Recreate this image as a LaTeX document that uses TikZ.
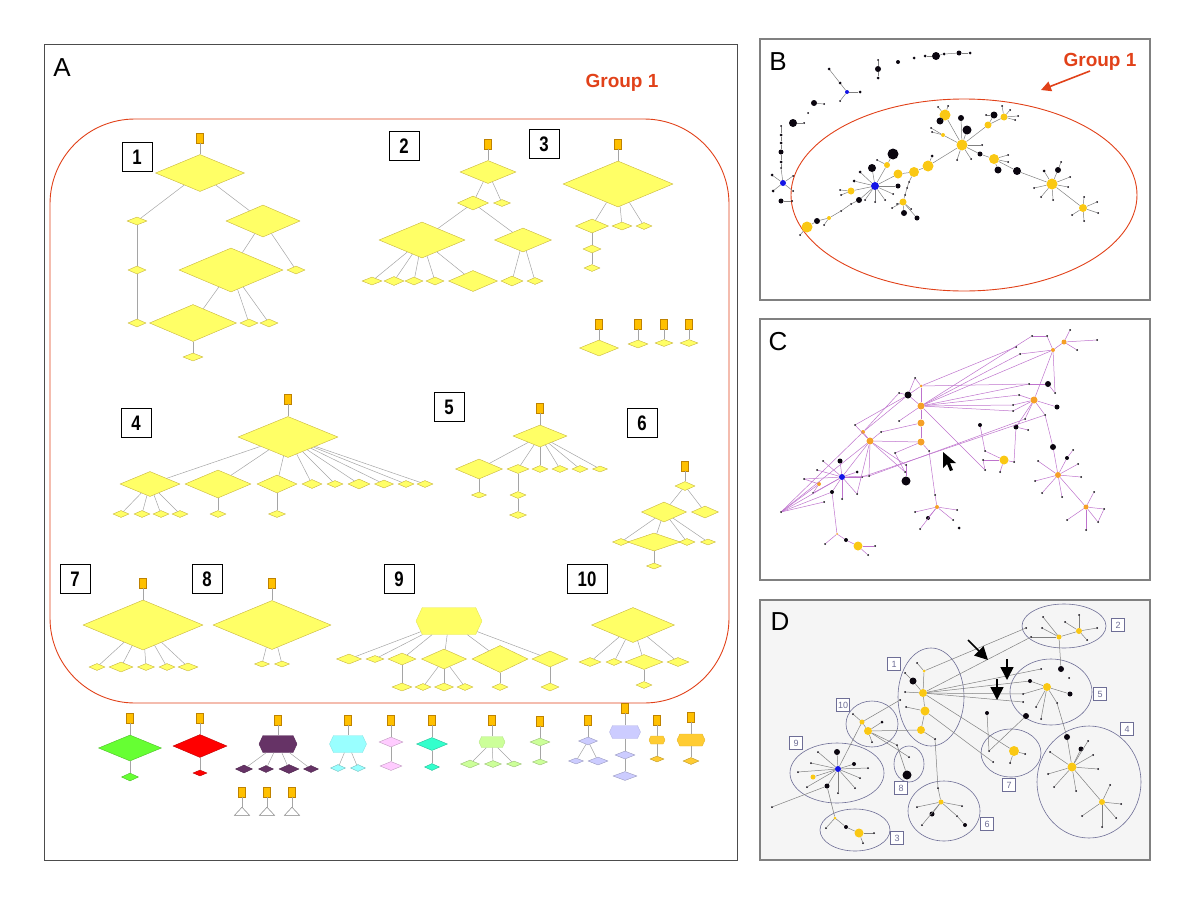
\documentclass[tikz,border=0pt]{standalone}
\usepackage{fontspec}
\setmainfont{Liberation Sans}
\newfontfamily\numfont[FakeStretch=0.8]{Liberation Sans}
\usetikzlibrary{positioning, arrows.meta, shapes.geometric, shapes.symbols}
\definecolor{diafill}{RGB}{255,255,102}
\definecolor{diaedge}{RGB}{200,180,60}
\definecolor{rootfill}{RGB}{255,192,0}
\definecolor{rootedge}{RGB}{190,130,0}
\definecolor{linkgray}{RGB}{165,165,165}
\definecolor{groupred}{RGB}{225,65,25}
\definecolor{framegray}{RGB}{128,128,128}
\definecolor{ngold}{RGB}{250,200,20}
\definecolor{norange}{RGB}{245,160,40}
\definecolor{nblue}{RGB}{20,20,230}
\definecolor{nblack}{RGB}{10,5,15}
\definecolor{webpurple}{RGB}{190,115,205}
\definecolor{ringblue}{RGB}{110,110,150}
\definecolor{dback}{RGB}{245,245,245}
\definecolor{cgreen}{RGB}{102,255,51}
\definecolor{cred}{RGB}{255,0,0}
\definecolor{cplum}{RGB}{102,51,102}
\definecolor{ccyan}{RGB}{153,255,255}
\definecolor{cpink}{RGB}{255,204,255}
\definecolor{cteal}{RGB}{51,255,204}
\definecolor{clime}{RGB}{204,255,153}
\definecolor{clav}{RGB}{204,204,255}
\definecolor{camber}{RGB}{255,204,51}

\begin{document}
\begin{tikzpicture}[x=1pt, y=-1pt,
    dia/.style={diamond, draw=diaedge, fill=diafill, inner sep=0pt, line width=0.4pt},
    hexa/.style={signal, signal to=east and west, signal pointer angle=130, inner sep=0pt, line width=0.4pt},
    root/.style={rectangle, draw=rootedge, fill=rootfill, minimum width=7pt, minimum height=10pt, inner sep=0pt, line width=0.4pt},
    tri/.style={isosceles triangle, isosceles triangle stretches, shape border rotate=90, draw=gray, fill=white, minimum width=15pt, minimum height=8pt, inner sep=0pt, line width=0.5pt},
    link/.style={draw=linkgray, line width=0.5pt},
    numbox/.style={draw, line width=1pt, minimum width=30pt, minimum height=29pt, inner sep=0pt, font=\numfont\bfseries\fontsize{21}{21}\selectfont},
    panel/.style={font=\fontsize{26}{26}\selectfont},
    grouplabel/.style={text=groupred, font=\bfseries\fontsize{19}{19}\selectfont},
    dot/.style={circle, inner sep=0pt, draw=none},
    weblink/.style={draw=webpurple, line width=0.5pt},
    graylink/.style={draw=gray, line width=0.5pt},
    ring/.style={draw=ringblue, line width=0.6pt},
    ringbox/.style={draw=ringblue, fill=white, minimum size=13pt, inner sep=1.5pt, text=ringblue, font=\fontsize{9}{9}\selectfont},
    bigarrow/.style={line width=1.6pt, -{Triangle[length=13pt, width=13pt]}},
    framebox/.style={draw=framegray, line width=1.6pt}
]
\useasboundingbox (0,0) rectangle (1200,900);

% ---------------- Panel A ----------------
\draw[draw=black!70, line width=1pt] (44,44) rectangle (737,860);
\node[panel] (labA) at (62,68) {A};
\node[grouplabel] (grpA) at (622,83) {Group 1};
\draw[groupred, line width=0.9pt, rounded corners=85pt] (50,119) rectangle (729,703);

% Numbered boxes
\foreach \n/\x/\y in {1/137/157, 2/404/146, 3/544/144, 4/136/423, 5/449/407, 6/642/423, 7/75/579, 8/207/579, 9/399/579}
    \node[numbox] (num\n) at (\x,\y) {\n};
\node[numbox, minimum width=40pt] (num10) at (587,579) {10};

% Roots
\foreach \n/\x/\y in {t1r/200/138, t2r/488/144, t3r/618/144, i1r/599/324, i2r/638/324, i3r/664/324, i4r/689/324,
    t4r/288/399, t5r/540/408, t6r/685/466, t7r/143/583, t8r/272/583,
    g1r/130/718, g2r/200/718, g3r/278/720, g4r/348/720, g5r/391/720, g6r/432/720, g7r/492/720,
    g8r/540/721, g9r/588/720, g10r/625/708, g11r/657/720, g12r/691/717, g13r/242/792, g14r/267/792, g15r/292/792}
    \node[root] (\n) at (\x,\y) {};

% Yellow diamonds
\foreach \n/\x/\y/\w/\h in {t1a/200/173/89/37, t1b/137/221/20/8, t1c/263/221/74/32, t1d/137/270/18/8, t1e/231/270/104/44,
    t1f/296/270/18/8, t1g/137/323/18/8, t1h/193/323/87/37, t1i/249/323/18/8, t1j/269/323/18/8, t1k/193/357/20/8,
    t2a/488/172/56/23, t2b/473/203/31/14, t2c/502/203/17/7, t2d/422/240/86/36, t2e/523/240/57/24, t2f/372/281/20/8,
    t2g/394/281/20/9, t2h/414/281/18/8, t2i/435/281/18/8, t2j/473/281/49/21, t2k/512/281/22/10, t2l/535/281/16/7,
    t3a/618/184/110/46, t3b/592/226/33/14, t3c/622/226/20/8, t3d/644/226/16/7, t3e/592/249/18/8, t3f/592/268/16/7,
    i1a/599/348/39/16, i2a/638/344/20/8, i3a/664/343/18/7, i4a/689/343/18/7,
    t4a/288/437/100/41, t4b/150/484/60/25, t4c/218/484/66/28, t4d/277/484/40/18, t4e/312/484/20/9, t4f/335/484/16/7,
    t4g/359/484/22/10, t4h/384/484/19/8, t4i/406/484/16/7, t4j/425/484/16/7, t4k/121/514/16/7, t4l/142/514/16/7,
    t4m/161/514/16/7, t4n/180/514/16/7, t4o/218/514/16/7, t4p/277/514/17/7,
    t5a/540/436/54/22, t5b/479/469/47/20, t5c/518/469/22/9, t5d/540/469/16/7, t5e/560/469/16/7, t5f/580/469/16/7,
    t5g/600/469/15/6, t5h/479/495/15/6, t5i/518/495/16/7, t5j/518/515/17/7,
    t6a/685/486/20/9, t6b/664/512/45/20, t6c/705/512/27/12, t6d/621/542/17/7, t6e/654/542/53/18, t6f/687/542/16/7,
    t6g/708/542/15/6, t6h/654/566/15/6,
    t7a/143/625/120/50, t7b/97/667/16/7, t7c/121/667/24/10, t7d/146/667/17/7, t7e/167/667/16/7, t7f/188/667/20/8,
    t8a/272/625/118/49, t8b/262/664/15/6, t8c/282/664/15/6,
    t9b/349/659/25/10, t9c/375/659/18/7, t9d/402/659/28/12, t9e/444/659/45/20, t9f/500/659/56/27, t9g/550/659/36/16,
    t9h/402/687/20/8, t9i/423/687/16/7, t9j/444/687/19/8, t9k/465/687/16/7, t9l/500/687/16/7, t9m/550/687/18/8,
    t10a/633/625/83/35, t10b/590/662/22/9, t10c/614/662/16/7, t10d/644/662/38/15, t10e/678/662/22/9, t10f/644/685/16/7}
    \node[dia, minimum width=\w pt, minimum height=\h pt] (\n) at (\x,\y) {};

% Coloured diamonds and hexagons
\foreach \n/\x/\y/\w/\h/\c in {g1a/130/748/63/26/cgreen, g1b/130/777/17/8/cgreen, g2a/200/746/54/23/cred, g2b/200/773/14/6/cred,
    g3b/244/769/17/8/cplum, g3c/266/769/15/7/cplum, g3d/289/769/20/9/cplum, g3e/311/769/15/7/cplum,
    g4b/338/768/15/7/ccyan, g4c/358/768/15/7/ccyan, g5a/391/742/24/10/cpink, g5b/391/766/22/9/cpink,
    g6a/432/744/31/13/cteal, g6b/432/767/15/7/cteal, g7b/470/764/19/8/clime, g7c/493/764/17/7/clime, g7d/514/764/15/6/clime,
    g8a/540/742/20/8/clime, g8b/540/762/15/6/clime, g9a/588/741/19/8/clav, g9b/576/761/15/6/clav, g9c/598/761/20/8/clav,
    g10b/625/755/20/8/clav, g10c/625/776/24/9/clav, g11b/657/759/14/6/camber, g12b/691/761/16/7/camber}
    \node[dia, fill=\c, draw=\c!75!black, minimum width=\w pt, minimum height=\h pt] (\n) at (\x,\y) {};
\foreach \n/\x/\y/\w/\h/\c in {t9a/449/621/66/27/diafill, g3a/278/744/38/17/cplum, g4a/348/744/37/17/ccyan, g7a/492/742/26/11/clime,
    g10a/625/732/31/13/clav, g11a/657/740/16/8/camber, g12a/691/740/28/12/camber}
    \node[hexa, fill=\c, draw=\c!90!black, minimum width=\w pt, minimum height=\h pt] (\n) at (\x,\y) {};
\foreach \n/\x in {g13a/242, g14a/267, g15a/292}
    \node[tri] (\n) at (\x,812) {};

% Tree edges
\foreach \a/\b in {t1r/t1a, t1a/t1b, t1a/t1c, t1b/t1d, t1d/t1g, t1c/t1e, t1c/t1f, t1e/t1h, t1e/t1i, t1e/t1j, t1h/t1k,
    t2r/t2a, t2a/t2b, t2a/t2c, t2b/t2d, t2b/t2e, t2d/t2f, t2d/t2g, t2d/t2h, t2d/t2i, t2d/t2j, t2e/t2k, t2e/t2l,
    t3r/t3a, t3a/t3b, t3a/t3c, t3a/t3d, t3b/t3e, t3e/t3f, i1r/i1a, i2r/i2a, i3r/i3a, i4r/i4a,
    t4r/t4a, t4a/t4b, t4a/t4c, t4a/t4d, t4a/t4e, t4a/t4f, t4a/t4g, t4a/t4h, t4a/t4i, t4a/t4j,
    t4b/t4k, t4b/t4l, t4b/t4m, t4b/t4n, t4c/t4o, t4d/t4p,
    t5r/t5a, t5a/t5b, t5a/t5c, t5a/t5d, t5a/t5e, t5a/t5f, t5a/t5g, t5b/t5h, t5c/t5i, t5i/t5j,
    t6r/t6a, t6a/t6b, t6a/t6c, t6b/t6d, t6b/t6e, t6b/t6f, t6b/t6g, t6e/t6h,
    t7r/t7a, t7a/t7b, t7a/t7c, t7a/t7d, t7a/t7e, t7a/t7f, t8r/t8a, t8a/t8b, t8a/t8c,
    t9a/t9b, t9a/t9c, t9a/t9d, t9a/t9e, t9a/t9f, t9a/t9g, t9d/t9h, t9e/t9i, t9e/t9j, t9e/t9k, t9f/t9l, t9g/t9m,
    t10a/t10b, t10a/t10c, t10a/t10d, t10a/t10e, t10d/t10f,
    g1r/g1a, g1a/g1b, g2r/g2a, g2a/g2b, g3r/g3a, g3a/g3b, g3a/g3c, g3a/g3d, g3a/g3e, g4r/g4a, g4a/g4b, g4a/g4c,
    g5r/g5a, g5a/g5b, g6r/g6a, g6a/g6b, g7r/g7a, g7a/g7b, g7a/g7c, g7a/g7d, g8r/g8a, g8a/g8b, g9r/g9a, g9a/g9b, g9a/g9c,
    g10r/g10a, g10a/g10b, g10b/g10c, g11r/g11a, g11a/g11b, g12r/g12a, g12a/g12b, g13r/g13a, g14r/g14a, g15r/g15a}
    \draw[link] (\a) -- (\b);

% ---------------- Panel B ----------------
\draw[framebox] (760,39) rectangle (1150,300);
\node[panel] (labB) at (778,62) {B};
\node[grouplabel] (grpB) at (1100,62) {Group 1};
\coordinate (grpBtail) at (1090,71);
\coordinate (grpBtip) at (1041,90);
\draw[groupred, line width=1.6pt, -{Triangle[length=10pt, width=10pt]}] (grpBtail) -- (grpBtip);
\draw[groupred, line width=0.9pt] (964,195) ellipse [x radius=173, y radius=96];

\foreach \n/\x/\y/\s/\c in {1/925/56/3/nblack, 2/936/56/8/nblack, 3/944/54/3/nblack, 4/959/53/5/nblack, 5/970/53/3/nblack,
    6/914/58/3/nblack, 7/898/62/4/nblack, 8/878/69/6/nblack, 9/878/60/2/nblack, 10/878/78/3/nblack,
    11/847/92/4/nblue, 12/829/69/3/nblack, 13/840/83/3/nblack, 14/860/92/3/nblack, 15/840/101/2/nblack,
    16/814/103/6/nblack, 17/824/104/2/nblack, 18/808/113/2/nblack, 19/793/123/8/nblack, 20/804/123/2/nblack,
    21/781/126/2/nblack, 22/781/135/3/nblack, 23/781/143/3/nblack, 24/781/152/5/nblack, 25/781/162/3/nblack, 26/781/168/2/nblack,
    27/783/183/6/nblue, 28/772/175/3/nblack, 29/793/176/2/nblack, 30/773/191/3/nblack, 31/793/191/2/nblack,
    33/781/201/5/nblack, 34/792/201/2/nblack,
    40/807/227/11/ngold, 41/800/235/2/nblack, 42/817/221/6/nblack, 43/829/218/4/ngold, 44/824/225/2/nblack,
    45/841/211/2/nblack, 46/851/204/2/nblack, 47/859/200/6/nblack, 50/875/186/8/nblue,
    51/851/191/7/ngold, 52/840/190/2/nblack, 53/841/195/2/nblack, 54/854/181/3/nblack, 55/860/172/3/nblack,
    56/872/168/8/nblack, 57/877/160/2/nblack, 58/887/165/6/ngold, 59/893/154/11/nblack, 60/898/186/5/nblack,
    61/893/194/2/nblack, 62/885/200/2/nblack, 63/875/202/2/nblack, 64/865/200/2/nblack,
    65/898/174/9/ngold, 66/914/172/10/ngold, 67/928/166/11/ngold, 68/932/156/3/nblack, 70/962/145/11/ngold,
    71/909/182/2/nblack, 72/907/188/2/nblack, 73/905/195/2/nblack, 74/903/202/7/ngold, 75/904/213/6/nblack,
    76/917/218/5/nblack, 77/892/208/2/nblack, 78/897/204/2/nblack, 79/911/209/2/nblack,
    80/945/115/11/ngold, 81/940/121/7/nblack, 82/961/118/6/nblack, 83/967/130/9/nblack, 84/943/135/4/ngold,
    85/932/132/2/nblack, 86/982/145/2/nblack, 87/957/160/2/nblack, 88/971/159/2/nblack, 89/948/106/2/nblack,
    90/938/107/2/nblack, 91/931/128/2/nblack,
    92/988/125/7/ngold, 93/1004/117/7/ngold, 94/994/115/7/nblack, 95/1002/106/2/nblack, 96/1010/110/2/nblack,
    97/1018/116/2/nblack, 98/1015/120/2/nblack, 99/986/115/2/nblack,
    100/980/154/5/nblack, 101/994/159/10/ngold, 102/998/170/7/nblack, 103/1017/171/8/nblack, 104/1008/155/2/nblack, 105/1008/162/2/nblack,
    110/1052/184/11/ngold, 111/1044/171/3/nblack, 112/1058/170/6/nblack, 113/1034/188/2/nblack, 114/1041/197/2/nblack,
    115/1053/200/2/nblack, 116/1068/187/2/nblack, 117/1070/177/2/nblack, 118/1061/162/2/nblack,
    120/1083/208/8/ngold, 121/1072/215/2/nblack, 122/1084/197/2/nblack, 123/1097/202/2/nblack, 124/1098/213/2/nblack, 125/1084/221/2/nblack}
    \node[dot, fill=\c, minimum size=\s pt] (b\n) at (\x,\y) {};

\foreach \a/\b in {1/2, 2/3, 3/4, 4/5, 9/8, 8/10, 12/13, 13/11, 11/14, 11/15, 16/17, 19/20,
    21/22, 22/23, 23/24, 24/25, 25/26, 26/27, 27/28, 27/29, 27/30, 27/31, 33/34,
    41/40, 40/42, 42/43, 43/44, 43/45, 45/46, 46/47, 47/50,
    50/51, 51/52, 51/53, 50/54, 50/55, 50/56, 50/58, 58/57, 58/59, 50/60, 50/61, 50/62, 50/63, 50/64,
    50/65, 65/66, 66/67, 67/70, 67/68, 66/71, 71/72, 72/73, 73/74, 74/75, 74/76, 74/77, 74/78, 74/79,
    70/80, 80/89, 80/90, 80/81, 70/82, 70/83, 70/84, 84/85, 84/91, 70/86, 70/87, 70/88,
    70/92, 92/93, 92/94, 93/95, 93/96, 93/97, 93/98, 94/99,
    70/100, 100/101, 101/102, 101/104, 101/105, 101/103, 103/110,
    110/111, 110/112, 110/113, 110/114, 110/115, 110/116, 110/117, 112/118,
    110/120, 120/121, 120/122, 120/123, 120/124, 120/125}
    \draw[graylink] (b\a) -- (b\b);

% ---------------- Panel C ----------------
\draw[framebox] (760,319) rectangle (1150,580);
\node[panel] (labC) at (778,342) {C};

\foreach \n/\x/\y/\s/\c in {1/842/477/6/nblue, 2/870/441/7/norange, 3/921/406/7/norange, 4/921/423/7/norange, 5/921/442/7/norange,
    6/863/432/4/norange, 7/921/386/3/norange, 8/819/484/4/norange, 9/1034/400/7/norange, 10/1053/350/4/norange,
    11/1064/342/5/norange, 12/1004/460/9/ngold, 13/1058/475/6/norange, 14/1086/507/5/norange, 15/937/507/4/norange,
    16/858/546/9/ngold, 17/837/534/2/norange,
    20/908/395/7/nblack, 21/840/461/5/nblack, 22/832/492/4/nblack, 23/906/481/9/nblack, 24/980/425/4/nblack,
    25/1016/427/5/nblack, 26/1048/384/6/nblack, 27/1057/407/5/nblack, 28/1053/447/6/nblack, 29/1067/458/4/nblack,
    30/928/518/4/nblack, 31/959/528/3/nblack, 32/846/540/4/nblack, 33/857/472/3/nblack,
    40/781/512/2/nblack, 41/824/502/2/nblack, 42/823/461/2/nblack, 43/817/470/2/nblack, 44/804/479/2/nblack,
    45/813/493/2/nblack, 46/842/499/2/nblack, 47/857/494/2/nblack, 48/862/477/2/nblack, 49/869/476/2/nblack,
    50/855/425/2/nblack, 51/881/432/2/nblack, 52/899/421/2/nblack, 53/899/393/2/nblack, 54/915/378/2/nblack,
    55/906/465/2/nblack, 56/905/472/2/nblack, 57/895/453/2/nblack, 60/929/451/2/nblack, 61/935/495/2/nblack,
    62/915/512/2/nblack, 63/957/510/2/nblack, 64/920/529/2/nblack, 65/953/520/2/nblack, 66/985/451/2/nblack,
    67/983/460/2/nblack, 68/985/470/2/nblack, 69/1000/472/2/nblack, 70/1014/462/2/nblack, 71/1028/430/2/nblack,
    72/1013/411/2/nblack, 73/1013/405/2/nblack, 74/1019/395/2/nblack, 75/1025/419/2/nblack, 76/1029/384/2/nblack,
    77/1020/354/2/nblack, 78/1016/347/2/nblack, 79/1032/336/2/nblack, 80/1047/336/2/nblack, 81/1070/330/2/nblack,
    82/1097/340/2/nblack, 83/1077/350/2/nblack, 84/1055/393/2/nblack, 86/1045/415/2/nblack, 87/1038/461/2/nblack,
    88/1035/481/2/nblack, 89/1042/493/2/nblack, 90/1062/497/2/nblack, 91/1078/464/2/nblack, 92/1081/477/2/nblack,
    93/1073/450/2/nblack, 94/1094/492/2/nblack, 95/1104/509/2/nblack, 96/1098/522/2/nblack, 97/1086/530/2/nblack,
    98/1067/520/2/nblack, 100/825/544/2/nblack, 101/875/546/2/nblack, 102/868/555/2/nblack}
    \node[dot, fill=\c, minimum size=\s pt] (c\n) at (\x,\y) {};

\foreach \a/\b in {40/1, 40/8, 40/2, 40/6, 40/41, 40/22,
    1/42, 1/43, 1/44, 1/45, 1/46, 1/47, 1/48, 1/49, 1/21, 1/22, 1/2, 1/33, 8/44, 8/45,
    2/6, 2/50, 2/51, 2/5, 2/55, 2/47, 2/49, 2/56, 6/53, 6/20, 50/20, 20/53, 20/54, 20/3, 20/7,
    7/54, 7/3, 7/78, 7/76, 3/4, 3/52, 3/77, 3/79, 3/76, 3/74, 3/72, 3/73, 3/10, 3/68,
    4/5, 4/51, 5/60, 5/57, 57/56, 60/61, 61/15, 15/62, 15/63, 15/64, 15/30, 15/65,
    12/66, 12/67, 12/69, 12/70, 66/24, 67/68, 25/70, 25/9, 25/71,
    9/74, 9/75, 9/72, 9/86, 9/27, 9/73, 9/10, 10/11, 10/77, 10/80, 10/84, 11/81, 11/82, 11/83, 79/80, 26/84, 26/76,
    28/86, 28/13, 13/87, 13/88, 13/89, 13/90, 13/91, 13/92, 13/29, 13/14, 29/93,
    14/94, 14/95, 14/96, 14/97, 14/98, 95/96, 22/17, 17/100, 17/32, 32/16, 16/101, 16/102,
    48/86, 49/75, 23/55}
    \draw[weblink] (c\a) -- (c\b);

% cursor
\fill[black] (943,452) -- (943,468) -- (947,464) -- (950,471) -- (953,470) -- (950,463) -- (956,463) -- cycle;

% ---------------- Panel D ----------------
\fill[dback] (760,600) rectangle (1150,860);
\draw[framebox] (760,600) rectangle (1150,860);
\node[panel] (labD) at (780,622) {D};

\foreach \n/\x/\y/\rx/\ry in {1/931/697/33/49, 2/1064/626/42/22, 3/855/830/35/21, 4/1089/782/52/56, 5/1051/692/41/33,
    6/944/811/36/30, 7/1011/753/30/24, 8/909/764/15/18, 9/837/773/47/30, 10/872/724/26/23}
    \draw[ring] (\x,\y) ellipse [x radius=\rx, y radius=\ry];

\foreach \n/\x/\y/\s/\c in {1/923/693/8/ngold, 2/925/711/9/ngold, 3/921/730/8/ngold, 4/924/671/3/ngold, 5/913/681/7/nblack,
    6/917/663/2/nblack, 7/905/673/2/nblack, 8/905/692/2/nblack, 9/906/707/2/nblack, 10/935/739/2/nblack,
    11/1059/637/5/ngold, 12/1079/631/6/ngold, 13/1026/628/2/nblack, 14/1031/637/2/nblack, 15/1042/628/2/nblack,
    16/1043/617/2/nblack, 17/1065/622/2/nblack, 18/1079/615/2/nblack, 19/1097/628/2/nblack, 20/1087/640/2/nblack,
    21/1047/687/8/ngold, 22/1061/669/6/nblack, 23/1070/694/5/nblack, 24/1026/716/6/nblack, 25/1030/681/4/nblack,
    26/1041/669/2/nblack, 27/1023/694/2/nblack, 28/1023/702/2/nblack, 29/1036/707/2/nblack, 30/1041/719/2/nblack,
    31/1057/703/2/nblack, 32/1069/678/2/nblack,
    33/1072/767/9/ngold, 34/1102/802/6/ngold, 35/1067/737/6/nblack, 36/1081/749/5/nblack, 37/1050/752/2/nblack,
    38/1088/741/2/nblack, 39/1093/755/2/nblack, 40/1098/769/2/nblack, 41/1048/774/2/nblack, 42/1054/787/2/nblack,
    43/1076/791/2/nblack, 44/1110/785/2/nblack, 45/1082/816/2/nblack, 46/1102/827/2/nblack, 47/1116/818/2/nblack,
    48/1121/804/2/nblack,
    49/1014/751/10/ngold, 50/989/751/2/nblack, 51/993/762/2/nblack, 52/1025/754/2/nblack, 53/1010/763/2/nblack, 54/987/713/4/nblack,
    55/862/722/5/ngold, 56/868/731/8/ngold, 57/882/722/3/nblack, 58/853/714/2/nblack, 59/900/700/2/nblack,
    60/872/742/2/nblack, 61/897/745/2/nblack, 62/907/775/9/nblack, 63/909/757/2/nblack,
    64/838/769/6/nblue, 65/813/777/5/ngold, 66/837/752/6/nblack, 67/827/786/5/nblack, 68/854/764/4/nblack,
    69/818/752/2/nblack, 70/811/763/2/nblack, 71/798/772/2/nblack, 72/807/787/2/nblack, 73/838/793/2/nblack,
    74/855/788/2/nblack, 75/860/778/2/nblack, 76/868/768/2/nblack, 77/772/807/2/nblack,
    78/835/818/3/ngold, 79/859/833/9/ngold, 80/846/827/4/nblack, 81/826/828/2/nblack, 82/863/843/2/nblack, 83/874/833/2/nblack,
    84/941/802/5/ngold, 85/932/814/5/nblack, 86/965/825/4/nblack, 87/917/807/2/nblack, 88/922/825/2/nblack,
    89/962/806/2/nblack, 90/957/816/2/nblack, 91/938/788/2/nblack}
    \node[dot, fill=\c, minimum size=\s pt] (d\n) at (\x,\y) {};

\foreach \a/\b in {1/2, 2/3, 1/4, 4/6, 1/5, 5/7, 1/8, 2/9, 3/10, 10/91, 91/84, 84/85, 84/87, 84/88, 84/89, 84/90, 90/86,
    4/13, 1/14, 1/26, 1/25, 1/27, 1/28, 1/49, 2/51,
    11/12, 11/14, 11/15, 11/16, 12/17, 12/18, 12/19, 12/20, 11/22,
    21/25, 21/27, 21/29, 21/23, 21/31, 21/30, 31/35, 35/33, 24/50, 54/50,
    33/36, 33/37, 33/38, 33/39, 33/40, 33/41, 33/42, 33/43, 33/34, 34/44, 34/45, 34/46, 34/47, 34/48,
    49/52, 49/53, 55/56, 55/58, 56/57, 56/3, 55/59, 56/60, 56/61, 61/62, 56/63, 55/64,
    64/66, 64/68, 64/69, 64/70, 64/71, 64/65, 64/72, 64/73, 64/74, 64/75, 64/76, 64/67, 67/77, 67/78,
    78/80, 80/79, 79/82, 79/83, 78/81}
    \draw[graylink] (d\a) -- (d\b);

% cluster tags
\foreach \n/\x/\y in {1/894/664, 2/1118/625, 3/897/838, 4/1127/729, 5/1100/694, 6/987/824, 7/1009/785, 8/901/788, 9/796/743, 10/843/705}
    \node[ringbox] (tag\n) at (\x,\y) {\n};

% arrows
\coordinate (arr1a) at (968,640);
\coordinate (arr1b) at (988,660);
\coordinate (arr2a) at (1007,659);
\coordinate (arr2b) at (1007,680);
\coordinate (arr3a) at (997,679);
\coordinate (arr3b) at (997,700);
\draw[bigarrow] (arr1a) -- (arr1b);
\draw[bigarrow] (arr2a) -- (arr2b);
\draw[bigarrow] (arr3a) -- (arr3b);
\end{tikzpicture}
\end{document}
